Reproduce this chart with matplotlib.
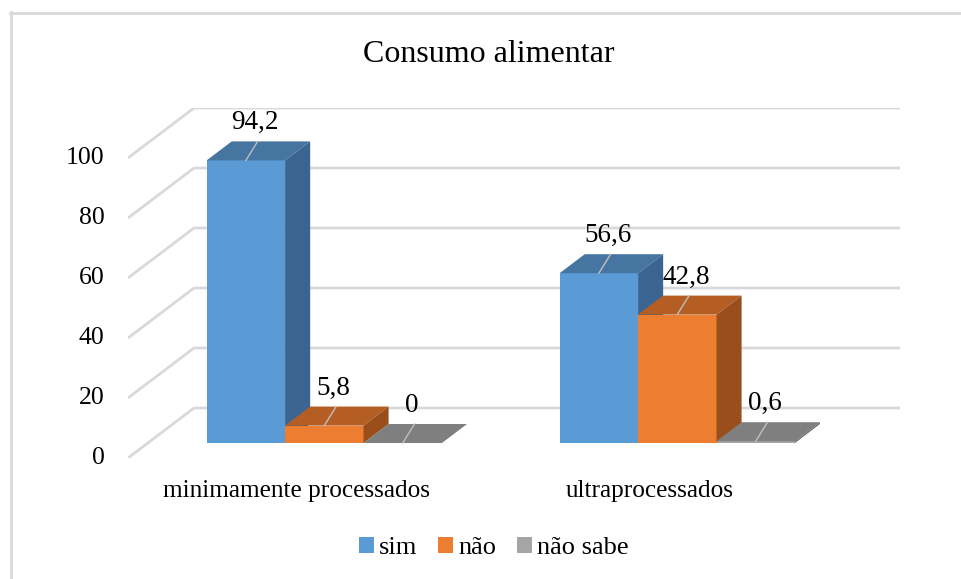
import matplotlib
matplotlib.use("Agg")
import matplotlib.pyplot as plt
from matplotlib.patches import Polygon, Rectangle
from matplotlib.lines import Line2D

# --- DATI ---
categorie = ["minimamente processados", "ultraprocessados"]
serie = ["sim", "não", "não sabe"]
sim = [94.2, 56.6]
nao = [5.8, 42.8]
nao_sabe = [0.0, 0.6]
etichette = [["94,2", "56,6"], ["5,8", "42,8"], ["0", "0,6"]]
y_ticks = [0, 20, 40, 60, 80, 100]

# --- STILE ---
FRONT = ["#5B9BD5", "#ED7D31", "#A5A5A5"]
TOP = ["#4675A2", "#B45E23", "#7F7F7F"]
SIDE = ["#3B6590", "#9A4E1C", "#6E6E6E"]
GRID = "#D9D9D9"
FONT = "Liberation Serif"

W, H = 961, 579
fig = plt.figure(figsize=(W / 100, H / 100), dpi=100)

# asse "frontale": x in unita di larghezza barra, y nei valori
left, right, bottom, top = 128, 900, 458, 108
ax = fig.add_axes([left / W, 1 - bottom / H, (right - left) / W, (bottom - top) / H])
ddx, ddy = 66 / 78.4, 50 / 3.0          # profondita totale della parete
cat_w = 4.5
ax.set_xlim(0, 2 * cat_w + ddx)
ax.set_ylim(0, 100 + ddy)
ax.axis("off")

# griglia: diagonale sulla parete sinistra + orizzontale sul fondo
for v in y_ticks:
    ax.plot([0, ddx, 2 * cat_w + ddx], [v, v + ddy, v + ddy], color=GRID, lw=2,
            solid_capstyle="butt", zorder=1)
    ax.text(-0.3, v, str(v), ha="right", va="center", fontsize=18.5, family=FONT)

# barre 3D
front_f, depth_f = 0.3, 0.38
fx, fy = front_f * ddx, front_f * ddy
bdx, bdy = depth_f * ddx, depth_f * ddy
valori = [sim, nao, nao_sabe]
for c in range(len(categorie)):
    x_start = c * cat_w + 0.75
    for s in range(len(serie)):
        h = valori[s][c]
        x0 = x_start + s + fx
        y0 = fy
        ax.add_patch(Rectangle((x0, y0), 1, h, facecolor=FRONT[s], edgecolor="none", zorder=2))
        ax.add_patch(Polygon([(x0, y0 + h), (x0 + 1, y0 + h), (x0 + 1 + bdx, y0 + h + bdy),
                              (x0 + bdx, y0 + h + bdy)], closed=True,
                             facecolor=TOP[s], edgecolor="none", zorder=2))
        ax.add_patch(Polygon([(x0 + 1, y0), (x0 + 1 + bdx, y0 + bdy),
                              (x0 + 1 + bdx, y0 + h + bdy), (x0 + 1, y0 + h)], closed=True,
                             facecolor=SIDE[s], edgecolor="none", zorder=2))
        # linea guida + etichetta
        xc = x0 + 0.5
        ax.plot([xc, xc + 0.15], [y0 + h, y0 + h + bdy], color="#BFBFBF", lw=1, zorder=3)
        ax.text(xc + 0.12, y0 + h + bdy + 2.0, etichette[s][c], ha="center", va="bottom",
                fontsize=19.5, family=FONT, zorder=4)

# etichette categorie
for c, nome in enumerate(categorie):
    ax.text(c * cat_w + cat_w / 2 - 0.1, -11, nome, ha="center", va="center",
            fontsize=18.2, family=FONT)

# titolo
fig.text(489 / W, 1 - 54 / H, "Consumo alimentar", ha="center", va="center",
         fontsize=23, family=FONT)

# legenda
handles = [Rectangle((0, 0), 1, 1, facecolor=col, edgecolor="none") for col in FRONT]
leg = fig.legend(handles, serie, loc="center", bbox_to_anchor=(494 / W, 1 - 548 / H),
                 ncol=3, frameon=False, handlelength=0.55, handleheight=0.55,
                 handletextpad=0.2, columnspacing=0.8, prop={"family": FONT, "size": 19})

# bordo del grafico
fig.add_artist(Line2D([10.5 / W, 10.5 / W], [0, 1 - 12 / H], color=GRID, lw=2))
fig.add_artist(Line2D([10 / W, 1], [1 - 12.5 / H, 1 - 12.5 / H], color=GRID, lw=2))

fig.savefig("out.png", dpi=100, facecolor="white")
